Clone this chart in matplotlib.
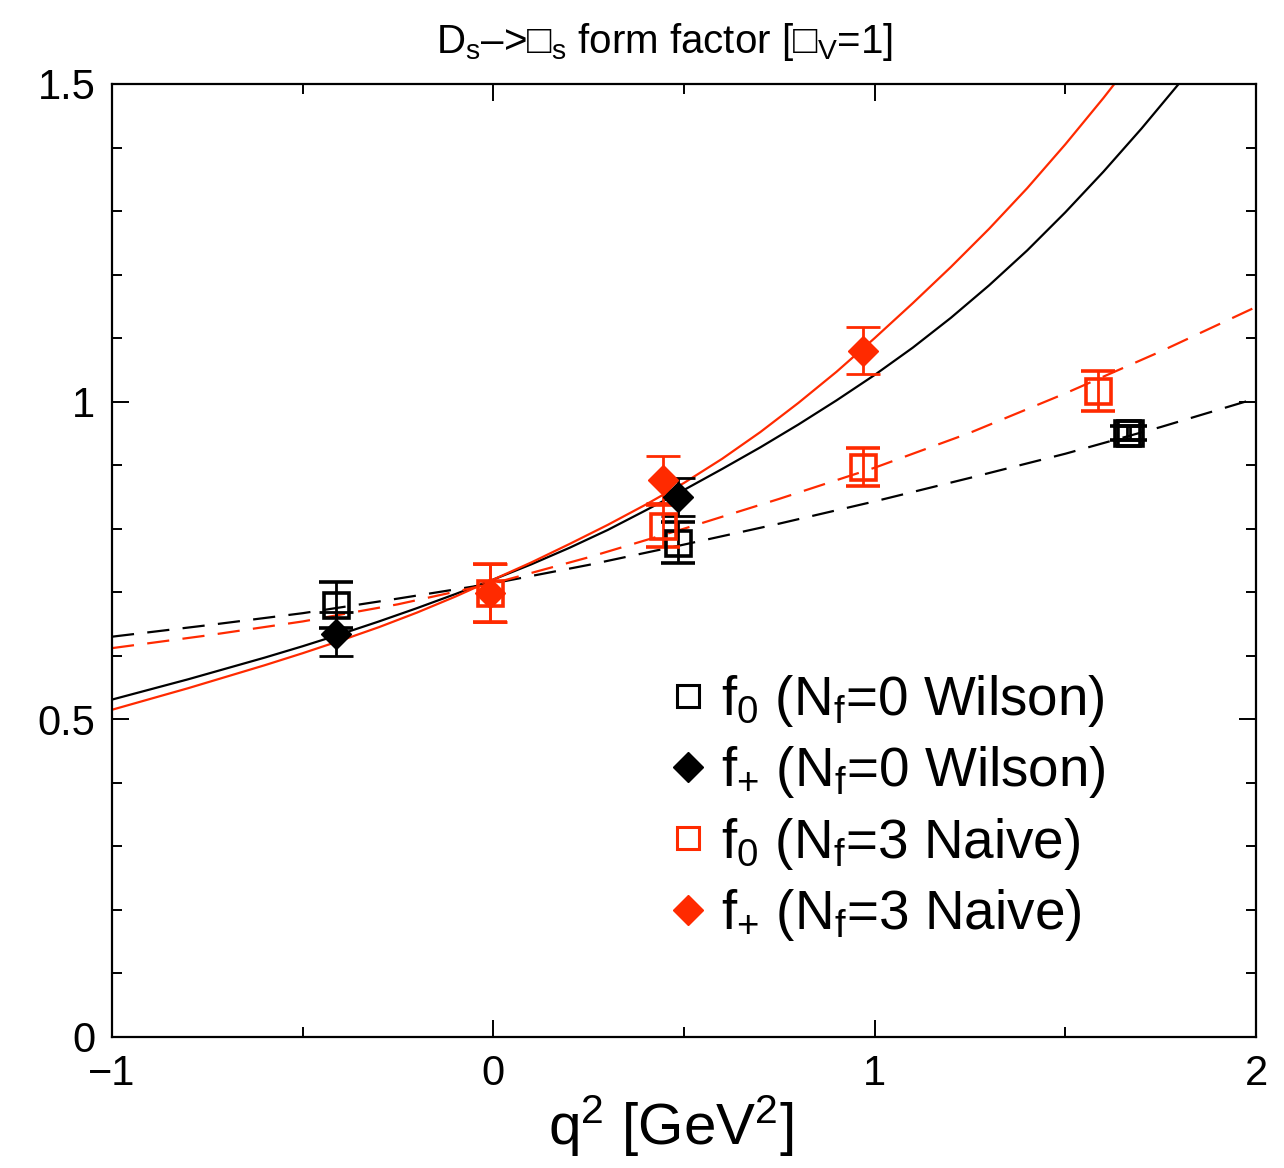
import numpy as np
import matplotlib
matplotlib.use("Agg")
import matplotlib.pyplot as plt
from matplotlib.lines import Line2D
from matplotlib.ticker import MultipleLocator

plt.rcParams['font.family'] = ['Liberation Sans', 'DejaVu Sans']
plt.rcParams['mathtext.fontset'] = 'custom'
plt.rcParams['mathtext.rm'] = 'Liberation Sans'
plt.rcParams['mathtext.it'] = 'Liberation Sans'

RED = '#ff2a00'

# data points (q^2, value, error)
f0_w_q = [-0.413, 0.484, 1.662, 1.669]
f0_w_v = [0.680, 0.778, 0.951, 0.951]
f0_w_e = [0.036, 0.032, 0.011, 0.011]

fp_w_q = [-0.413, 0.484]
fp_w_v = [0.634, 0.850]
fp_w_e = [0.035, 0.030]

f0_n_q = [-0.009, 0.445, 0.970, 1.586]
f0_n_v = [0.699, 0.804, 0.897, 1.017]
f0_n_e = [0.046, 0.033, 0.030, 0.032]

fp_n_q = [-0.009, 0.445, 0.970]
fp_n_v = [0.699, 0.877, 1.080]
fp_n_e = [0.046, 0.037, 0.037]

# fit curves
solid_q = [-1.0, -0.9, -0.8, -0.7, -0.6, -0.5, -0.4, -0.3, -0.2, -0.1, 0.0,
           0.1, 0.2, 0.3, 0.4, 0.5, 0.6, 0.7, 0.8, 0.9, 1.0,
           1.1, 1.2, 1.3, 1.4, 1.5, 1.6, 1.7, 1.8, 1.9]
fp_w_fit = [0.531, 0.547, 0.563, 0.580, 0.597, 0.615, 0.634, 0.654, 0.675, 0.697, 0.720,
            0.744, 0.770, 0.798, 0.829, 0.861, 0.894, 0.928, 0.964, 1.002, 1.042,
            1.085, 1.132, 1.183, 1.238, 1.298, 1.362, 1.430, 1.502, 1.578]
fp_n_fit = [0.515, 0.532, 0.549, 0.567, 0.585, 0.604, 0.624, 0.645, 0.668, 0.693, 0.720,
            0.747, 0.776, 0.806, 0.838, 0.872, 0.910, 0.952, 0.998, 1.047, 1.100,
            1.155, 1.212, 1.272, 1.336, 1.405, 1.478, 1.555, 1.640, np.nan]

dash_q = [-1.0, -0.75, -0.5, -0.25, 0.0, 0.25, 0.5, 0.75, 1.0, 1.25, 1.5, 1.75, 2.0]
f0_w_fit = [0.630, 0.648, 0.667, 0.690, 0.714, 0.743, 0.775, 0.808, 0.843, 0.880, 0.918, 0.960, 1.005]
f0_n_fit = [0.612, 0.632, 0.654, 0.681, 0.714, 0.755, 0.800, 0.847, 0.896, 0.951, 1.013, 1.079, 1.149]

fig = plt.figure(figsize=(12.84, 11.68), dpi=100)
ax = fig.add_axes([0.0872, 0.1122, 0.8910, 0.8159])

ax.plot(solid_q, fp_w_fit, color='black', lw=1.6)
ax.plot(solid_q, fp_n_fit, color=RED, lw=1.6)
ax.plot(dash_q, f0_w_fit, color='black', lw=1.6, dashes=(10, 6))
ax.plot(dash_q, f0_n_fit, color=RED, lw=1.6, dashes=(10, 6))

eb = dict(ls='none', elinewidth=2.0, capsize=12, capthick=2.0)
ax.errorbar(f0_w_q, f0_w_v, yerr=f0_w_e, color='black', marker='s', ms=18,
            mfc='none', mew=2.6, **eb)
ax.errorbar(fp_w_q, fp_w_v, yerr=fp_w_e, color='black', marker='D', ms=15, **eb)
ax.errorbar(f0_n_q, f0_n_v, yerr=f0_n_e, color=RED, marker='s', ms=18,
            mfc='none', mew=2.6, **eb)
ax.errorbar(fp_n_q, fp_n_v, yerr=fp_n_e, color=RED, marker='D', ms=15, **eb)

ax.set_xlim(-1, 2)
ax.set_ylim(0, 1.5)
ax.set_xticks([-1, 0, 1, 2])
ax.set_xticklabels(['\u22121', '0', '1', '2'])
ax.xaxis.set_minor_locator(MultipleLocator(0.5))
ax.set_yticks([0, 0.5, 1, 1.5])
ax.set_yticklabels(['0', '0.5', '1', '1.5'])
ax.yaxis.set_minor_locator(MultipleLocator(0.1))
ax.tick_params(which='both', direction='in', top=True, right=True, width=1.4)
ax.tick_params(which='major', length=12, labelsize=30, pad=12)
ax.tick_params(which='minor', length=7)
for s in ax.spines.values():
    s.set_linewidth(1.6)

ax.set_xlabel(r'q$^{\rm 2}$ [GeV$^{\rm 2}$]', fontsize=42, labelpad=0, x=0.488)
ax.set_title('D$_{\\rm s}$\u2013>\u25a1$_{\\rm s}$ form factor [\u25a1$_{\\rm V}$=1]',
             fontsize=29, pad=22, x=0.483)

handles = [
    Line2D([], [], ls='none', marker='s', ms=16, mfc='none', mec='black', mew=2.2),
    Line2D([], [], ls='none', marker='D', ms=15, color='black'),
    Line2D([], [], ls='none', marker='s', ms=16, mfc='none', mec=RED, mew=2.2),
    Line2D([], [], ls='none', marker='D', ms=15, color=RED),
]
labels = [
    r'f$_{\rm 0}$ (N$_{\rm f}$=0 Wilson)',
    r'f$_{{+}}$ (N$_{\rm f}$=0 Wilson)',
    r'f$_{\rm 0}$ (N$_{\rm f}$=3 Naive)',
    r'f$_{{+}}$ (N$_{\rm f}$=3 Naive)',
]
ax.legend(handles, labels, loc='upper left', bbox_to_anchor=(0.470, 0.405),
          frameon=False, fontsize=39.5, handlelength=0.6, handletextpad=0.3,
          labelspacing=0.28, borderaxespad=0)

fig.savefig('out.png', dpi=100)
